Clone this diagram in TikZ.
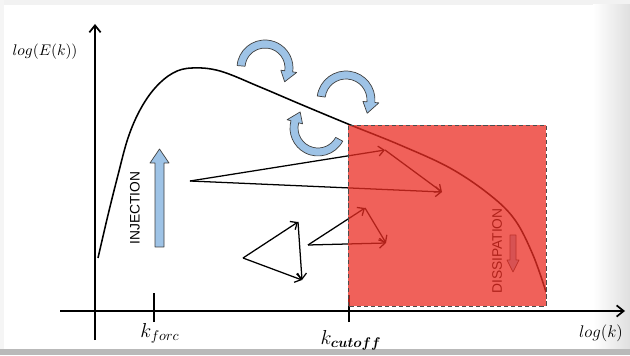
\documentclass[tikz,border=0pt]{standalone}
\usepackage{fontspec}
\usepackage{amsmath}
\usetikzlibrary{arrows.meta}
\newfontfamily\labelfont{Liberation Sans}
\definecolor{swirlblue}{RGB}{158,195,230}
\definecolor{cutred}{RGB}{235,45,35}
\tikzset{
  swirl/.style={fill=swirlblue,draw=black!75,line width=0.5pt,line join=round},
  vec/.style={-{Straight Barb[length=4pt,width=7pt]},line width=0.9pt},
  axis/.style={-{Straight Barb[length=5pt,width=8pt]},line width=1.2pt},
  tick/.style={line width=1.2pt},
}
% curved block arrow: centre x, centre y, radius, band start, band end, tip angle
\newcommand{\swirl}[6]{%
  \pgfmathsetmacro{\swro}{#3+4}\pgfmathsetmacro{\swri}{#3-4}%
  \pgfmathsetmacro{\swho}{#3+8}\pgfmathsetmacro{\swhi}{#3-8}%
  \draw[swirl] ([shift={(#1,#2)}]#4:\swro) arc[start angle=#4,end angle=#5,radius=\swro]
    -- ([shift={(#1,#2)}]#5:\swho) -- ([shift={(#1,#2)}]#6:#3)
    -- ([shift={(#1,#2)}]#5:\swhi) -- ([shift={(#1,#2)}]#5:\swri)
    arc[start angle=#5,end angle=#4,radius=\swri] -- cycle;}
\begin{document}
\begin{tikzpicture}[x=0.025cm,y=0.025cm]
  \useasboundingbox (0,0) rectangle (630,355);
  % screenshot frame
  \fill[white] (0,0) rectangle (630,355);
  \fill[gray!10] (0,350) rectangle (630,355);
  \fill[gray!8] (0,0) rectangle (4,355);
  \shade[left color=white,right color=gray!25] (593,6) rectangle (630,350);
  \fill[gray!55] (0,0) rectangle (630,6);

  % injection arrow
  \draw[swirl] (155,108) -- (164,108) -- (164,192) -- (169,192) -- (159.5,206)
    -- (150,192) -- (155,192) -- cycle;
  \node[rotate=90] (inj) at (135,147) {\labelfont\fontsize{9.8}{11}\selectfont INJECTION};

  % cascade
  \swirl{265}{287}{24}{175}{-8}{-35}
  \swirl{346}{255}{25}{172}{-5}{-32}
  \swirl{318}{227}{24}{-28}{-195}{-222}

  % axes
  \coordinate (O1) at (95,15);
  \coordinate (Ytop) at (95,331);
  \coordinate (O2) at (60,44);
  \coordinate (Xend) at (625,44);
  \draw[axis] (O1) -- (Ytop);
  \draw[axis] (O2) -- (Xend);
  \node (ylab) at (45,303) {\fontsize{11}{13}\selectfont$log(E(k))$};
  \node (xlab) at (601,22) {\fontsize{11.5}{13}\selectfont$log(k)$};
  \draw[tick] (154,33) -- (154,62);
  \draw[tick] (349,33) -- (349,60);
  \node (kforc) at (160,22) {\Large$k_{forc}$};
  \node (kcut) at (351,15) {\Large$k_{\boldsymbol{cutoff}}$};

  % spectrum
  \draw[line width=1.1pt] plot[smooth,tension=0.6] coordinates {
    (98,97) (108,140) (118,180) (128,217) (140,245) (155,267) (173,282)
    (192,287) (220,284) (260,268) (300,251) (348,231) (400,210) (450,187)
    (490,160) (515,135) (533,100) (546,63)};

  % triads
  \coordinate (a1) at (190,174);
  \coordinate (b1) at (385,205);
  \coordinate (c1) at (442,163);
  \draw[vec] (a1) -- (b1);
  \draw[vec] (b1) -- (c1);
  \draw[vec] (a1) -- (c1);
  \coordinate (a2) at (243,97);
  \coordinate (b2) at (298,133);
  \coordinate (c2) at (302,75);
  \draw[vec] (a2) -- (b2);
  \draw[vec] (b2) -- (c2);
  \draw[vec] (a2) -- (c2);
  \coordinate (a3) at (308,110);
  \coordinate (b3) at (365,147);
  \coordinate (c3) at (386,112);
  \draw[vec] (a3) -- (b3);
  \draw[vec] (b3) -- (c3);
  \draw[vec] (a3) -- (c3);

  % dissipation range
  \node[rotate=90] (diss) at (497,104) {\labelfont\fontsize{9.8}{11}\selectfont DISSIPATION};
  \draw[swirl] (510,120) -- (516,120) -- (516,95) -- (519,95) -- (513,83)
    -- (507,95) -- (510,95) -- cycle;
  \fill[cutred,opacity=0.75] (348,49) rectangle (546,230);
  \draw[black!70,densely dashed,line width=0.6pt] (348,49) rectangle (546,230);
\end{tikzpicture}
\end{document}
